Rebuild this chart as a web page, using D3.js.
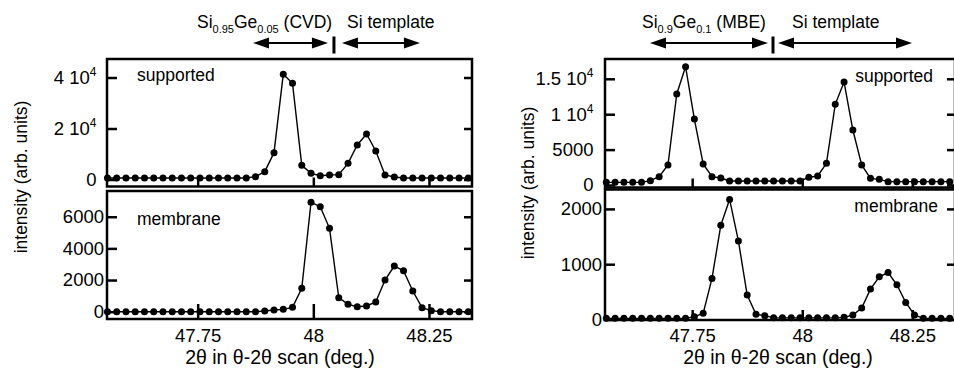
<!DOCTYPE html>
<html><head><meta charset="utf-8">
<script src="https://cdn.jsdelivr.net/npm/d3@7"></script>
<style>
body{margin:0;background:#fff}
text{font-family:"Liberation Sans",Arial,Helvetica,sans-serif;fill:#000}
</style>
</head><body>
<svg id="c" width="954" height="379"></svg>
<script>
// ---------------- data ----------------
const twoTheta = [47.555,47.575,47.595,47.615,47.635,47.655,47.675,47.695,47.715,47.735,
  47.755,47.775,47.795,47.815,47.835,47.855,47.875,47.895,47.915,47.935,
  47.955,47.975,47.995,48.015,48.035,48.055,48.075,48.095,48.115,48.135,
  48.155,48.175,48.195,48.215,48.235,48.255,48.275,48.295,48.315,48.335];

const cvdSupported = [590,590,590,590,590,590,590,590,590,590,590,590,590,590,590,590,
  1110,3070,10520,41250,37720,5560,2420,1500,1760,1900,6340,13530,17850,11180,1760,980,
  590,590,590,590,590,590,590,590];
const cvdMembrane = [0,0,0,0,0,0,0,0,0,0,0,0,0,0,0,0,0,
  44,107,150,276,1476,6909,6635,5266,886,465,318,360,613,2002,2887,2592,1308,255,65,
  0,0,0,0];
const mbeSupported = [377,377,377,377,377,612,1177,2824,12850,16710,9320,2965,1177,988,
  565,565,565,565,565,565,565,565,565,
  1083,1271,3060,11390,14545,7766,2824,941,800,
  471,471,471,471,471,471,471,471];
const mbeMembrane = [21,21,21,21,21,21,21,21,21,21,
  51,111,742,1703,2171,1421,441,93,69,
  30,30,30,30,30,30,30,30,
  39,81,207,550,772,850,628,309,81,
  21,21,21,21];

const xTicks = [47.75, 48, 48.25];
const xTickLabels = ["47.75", "48", "48.25"];
const cvdSupTicks = [0, 20000, 40000];
const cvdSupTickLabels = ["0", "2 10^4", "4 10^4"];
const cvdMemTicks = [0, 2000, 4000, 6000];
const cvdMemTickLabels = ["0", "2000", "4000", "6000"];
const mbeSupTicks = [0, 5000, 10000, 15000];
const mbeSupTickLabels = ["0", "5000", "1 10^4", "1.5 10^4"];
const mbeMemTicks = [0, 1000, 2000];
const mbeMemTickLabels = ["0", "1000", "2000"];

const xTitle = "2\u03B8 in \u03B8-2\u03B8 scan (deg.)";
const yTitle = "intensity (arb. units)";

// ---------------- layout ----------------
const charts = [
  { px:[107,472], dom:[47.554,48.343], titleX:280, yTitleX:27, yTitleY:177,
    header:{ main:[["Si",""],["0.95","sub"],["Ge",""],["0.05","sub"],[" (CVD)",""]], mainAt:47.7485, tmplAt:48.0727,
             arrL:[47.8696,48.0316], sep:48.0446, arrR:[48.0619,48.2305] },
    panels:[
      { y:[59,186.5], dom:[-2745,47260], data:cvdSupported, ticks:cvdSupTicks, labels:cvdSupTickLabels,
        pad:10.5, xTickLen:9, name:"supported", nameX:137, nameY:81, anchor:"start", xLabels:false },
      { y:[191,319], dom:[-461,7625], data:cvdMembrane, ticks:cvdMemTicks, labels:cvdMemTickLabels,
        pad:3, xTickLen:15, name:"membrane", nameX:137, nameY:225, anchor:"start", xLabels:true }
    ]},
  { px:[605,955], dom:[47.552,48.347], titleX:778, yTitleX:534, yTitleY:183,
    header:{ main:[["Si",""],["0.9","sub"],["Ge",""],["0.1","sub"],[" (MBE)",""]], mainAt:47.636, tmplAt:47.9768,
             arrL:[47.6542,47.9222], sep:47.9336, arrR:[47.945,48.2493] },
    panels:[
      { y:[59,187.5], dom:[-353,17797], data:mbeSupported, ticks:mbeSupTicks, labels:mbeSupTickLabels,
        pad:11.5, xTickLen:9, name:"supported", nameX:933, nameY:82, anchor:"end", xLabels:false },
      { y:[189.5,320], dom:[-9,2351], data:mbeMembrane, ticks:mbeMemTicks, labels:mbeMemTickLabels,
        pad:3, xTickLen:10, name:"membrane", nameX:938, nameY:211.5, anchor:"end", xLabels:true }
    ]}
];

const svg = d3.select("#c");
const FS_TICK = 18.5, FS_XTICK = 18.5, FS_XT = 19.5, FS_NAME = 17.5, FS_HEAD = 17.5, FS_YT = 17.5;
const XTICK_BASE = 342, XTITLE_BASE = 364;

function setLabel(sel, str) {
  sel.text(null);
  const parts = str.split("^");
  sel.append("tspan").text(parts[0]);
  if (parts.length > 1) sel.append("tspan").attr("dy", -8).attr("font-size", 12).text(parts[1]);
}

charts.forEach(ch => {
  const x = d3.scaleLinear().domain(ch.dom).range(ch.px);
  ch.panels.forEach(p => {
    const y = d3.scaleLinear().domain(p.dom).range([p.y[1], p.y[0]]);
    const g = svg.append("g");
    // left axis (ticks inward, labels outside)
    const ax = g.append("g").attr("transform", `translate(${ch.px[0]},0)`)
      .call(d3.axisLeft(y).tickValues(p.ticks).tickSizeInner(-10).tickSizeOuter(0).tickPadding(p.pad)
        .tickFormat((d,i)=>p.labels[i]));
    ax.select(".domain").remove();
    ax.selectAll(".tick line").attr("stroke","#000").attr("stroke-width",2.5);
    ax.selectAll(".tick text").attr("font-size",FS_TICK).attr("fill","#000")
      .style("font-family",'"Liberation Sans",Arial,sans-serif')
      .each(function(d,i){ setLabel(d3.select(this), p.labels[i]); });
    // right axis ticks inward
    const axr = g.append("g").attr("transform", `translate(${ch.px[1]},0)`)
      .call(d3.axisRight(y).tickValues(p.ticks).tickSizeInner(-8).tickSizeOuter(0).tickFormat(""));
    axr.select(".domain").remove();
    axr.selectAll(".tick line").attr("stroke","#000").attr("stroke-width",2.5);
    // bottom axis ticks inward
    const axb = g.append("g").attr("transform", `translate(0,${p.y[1]})`)
      .call(d3.axisBottom(x).tickValues(xTicks).tickSizeInner(-p.xTickLen).tickSizeOuter(0)
        .tickPadding(p.xTickLen + 10).tickFormat((d,i)=> p.xLabels ? xTickLabels[i] : ""));
    axb.select(".domain").remove();
    axb.selectAll(".tick line").attr("stroke","#000").attr("stroke-width",2.5);
    axb.selectAll(".tick text").attr("font-size",FS_XTICK).attr("fill","#000")
      .style("font-family",'"Liberation Sans",Arial,sans-serif')
      .attr("y", null).attr("dy", null).attr("transform", `translate(0,${XTICK_BASE - p.y[1]})`);
    // data line + markers
    const line = d3.line().x((d,i)=>x(twoTheta[i])).y(d=>y(d));
    g.append("path").datum(p.data).attr("d",line).attr("fill","none").attr("stroke","#000").attr("stroke-width",1.4);
    g.selectAll("circle").data(p.data).enter().append("circle")
      .attr("cx",(d,i)=>x(twoTheta[i])).attr("cy",d=>y(d)).attr("r",3.5).attr("fill","#000");
    // frame
    g.append("rect").attr("x",ch.px[0]).attr("y",p.y[0]).attr("width",ch.px[1]-ch.px[0]).attr("height",p.y[1]-p.y[0])
      .attr("fill","none").attr("stroke","#000").attr("stroke-width",2.5);
    // panel name
    g.append("text").attr("x",p.nameX).attr("y",p.nameY).attr("text-anchor",p.anchor)
      .attr("font-size",FS_NAME).text(p.name);
  });
  // x title
  svg.append("text").attr("x",ch.titleX).attr("y",XTITLE_BASE).attr("text-anchor","middle")
    .attr("font-size",FS_XT).text(xTitle);
  // y title
  svg.append("text").attr("transform",`translate(${ch.yTitleX},${ch.yTitleY}) rotate(-90)`)
    .attr("text-anchor","middle").attr("font-size",FS_YT).text(yTitle);
  // header
  const h = ch.header;
  const t = svg.append("text").attr("x",x(h.mainAt)).attr("y",28).attr("font-size",FS_HEAD);
  h.main.forEach(([s,k],i)=>{
    const ts = t.append("tspan").text(s);
    if (k==="sub") ts.attr("font-size",11).attr("dy",4.5);
    else if (i>0 && h.main[i-1][1]==="sub") ts.attr("dy",-4.5);
  });
  svg.append("text").attr("x",x(h.tmplAt)).attr("y",28).attr("font-size",FS_HEAD).text("Si template");
  const ay = 43, hl = 16, hw = 5.5;
  [h.arrL, h.arrR].forEach(([a,b])=>{
    const xa = x(a), xb = x(b);
    svg.append("line").attr("x1",xa+hl-2).attr("x2",xb-hl+2).attr("y1",ay).attr("y2",ay)
      .attr("stroke","#000").attr("stroke-width",2.2);
    svg.append("path").attr("d",`M${xa},${ay}L${xa+hl},${ay-hw}L${xa+hl},${ay+hw}Z`).attr("fill","#000");
    svg.append("path").attr("d",`M${xb},${ay}L${xb-hl},${ay-hw}L${xb-hl},${ay+hw}Z`).attr("fill","#000");
  });
  svg.append("line").attr("x1",x(h.sep)).attr("x2",x(h.sep)).attr("y1",36.5).attr("y2",53.5)
    .attr("stroke","#000").attr("stroke-width",3);
});
</script>
</body></html>
